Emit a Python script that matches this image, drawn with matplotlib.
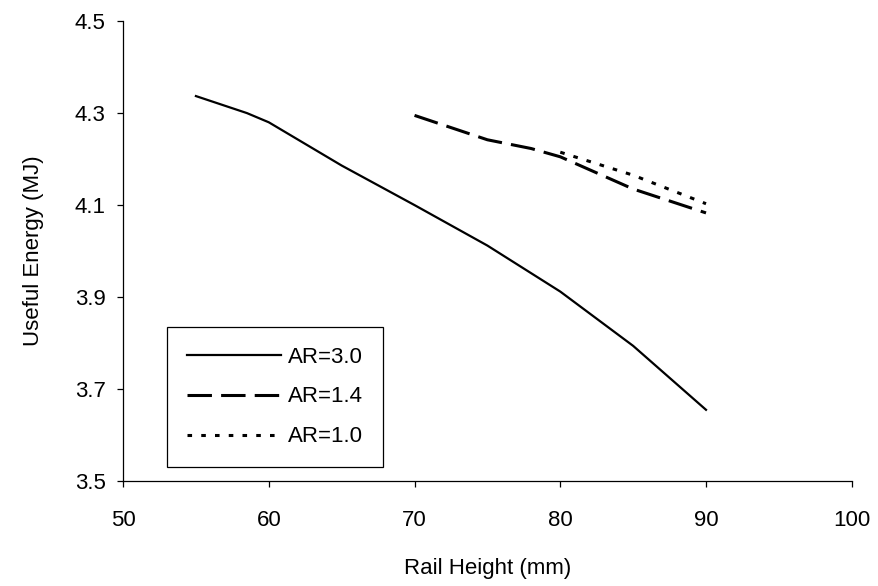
import matplotlib
matplotlib.use("Agg")
import matplotlib.pyplot as plt

# Datos
x_ar30 = [55, 58.5, 60, 65, 70, 75, 80, 85, 90]
y_ar30 = [4.337, 4.300, 4.280, 4.186, 4.100, 4.012, 3.912, 3.794, 3.655]

x_ar14 = [70, 75, 78, 80, 85, 90]
y_ar14 = [4.295, 4.242, 4.223, 4.205, 4.135, 4.083]

x_ar10 = [80, 85, 90]
y_ar10 = [4.215, 4.165, 4.103]

x_ticks = [50, 60, 70, 80, 90, 100]
y_ticks = [3.5, 3.7, 3.9, 4.1, 4.3, 4.5]

plt.rcParams['font.family'] = ['Liberation Sans', 'DejaVu Sans']
plt.rcParams['font.size'] = 16

fig = plt.figure(figsize=(8.79, 5.86), dpi=100)
ax = fig.add_axes([0.140, 0.179, 0.829, 0.785])

ax.plot(x_ar30, y_ar30, color='black', lw=1.6, label='AR=3.0')
ax.plot(x_ar14, y_ar14, color='black', lw=2.2, dashes=(8, 3), label='AR=1.4')
ax.plot(x_ar10, y_ar10, color='black', lw=2.2, dashes=(1.5, 3), label='AR=1.0')

ax.set_xlim(50, 100)
ax.set_ylim(3.5, 4.5)
ax.set_xticks(x_ticks)
ax.set_yticks(y_ticks)
ax.set_yticklabels([f"{v:.1f}" for v in y_ticks])

for s in ['top', 'right']:
    ax.spines[s].set_visible(False)
for s in ['left', 'bottom']:
    ax.spines[s].set_linewidth(0.9)
ax.tick_params(axis='both', direction='out', length=4.5, width=0.9, colors='black')
ax.tick_params(axis='x', pad=16)
ax.tick_params(axis='y', pad=8)

ax.set_xlabel("Rail Height (mm)", labelpad=20)
ax.set_ylabel("Useful Energy (MJ)", labelpad=22)

leg = ax.legend(loc='lower left', bbox_to_anchor=(0.060, 0.030), borderaxespad=0,
                frameon=True, fancybox=False, edgecolor='black', framealpha=1,
                handlelength=4.25, handletextpad=0.3, borderpad=0.9,
                labelspacing=0.85, fontsize=16)
leg.get_frame().set_linewidth(0.9)

fig.savefig("out.png", dpi=100)
